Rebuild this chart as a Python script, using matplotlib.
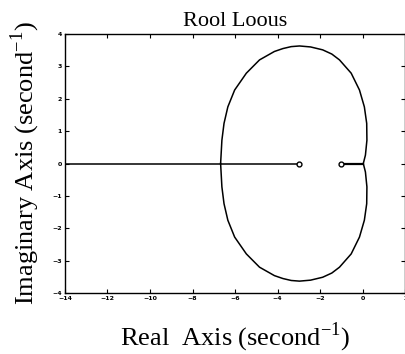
"""
Root locus redrawn from the picture
"""
import numpy as np
import matplotlib.pyplot as plt

# zeros on the real axis
zeros_re = [-3.0, -1.0]

# upper branch of the locus (real, imag)
upper_re = [0.03, 0.13, 0.20, 0.19, 0.08, -0.15, -0.54, -1.09, -1.45, -1.88, -2.45, -2.97,
            -3.36, -3.75, -4.15, -4.85, -5.47, -6.02, -6.34, -6.52, -6.62, -6.68]
upper_im = [0.0, 0.26, 0.72, 1.24, 1.75, 2.27, 2.79, 3.20, 3.38, 3.51, 3.60, 3.63,
            3.61, 3.55, 3.46, 3.20, 2.79, 2.27, 1.75, 1.24, 0.72, 0.0]

# segments along the real axis
left_seg = [-14.0, -3.0]
right_seg = [-1.0, 0.03]

x_ticks = [-14, -12, -10, -8, -6, -4, -2, 0, 2]
y_ticks = [-4, -3, -2, -1, 0, 1, 2, 3, 4]

fig = plt.figure(figsize=(4.06, 3.54), dpi=100)
ax = fig.add_axes([0.160, 0.172, 0.838, 0.732])

up_re = np.array(upper_re)
up_im = np.array(upper_im)
ax.plot(up_re, up_im, color='black', linewidth=1.1)
ax.plot(up_re, -up_im, color='black', linewidth=1.1)
ax.plot(left_seg, [0, 0], color='black', linewidth=1.1)
ax.plot(right_seg, [0, 0], color='black', linewidth=1.6)
ax.plot(zeros_re, [0, 0], 'o', markersize=3.5, markerfacecolor='white',
        markeredgecolor='black', markeredgewidth=1.0, linestyle='none')

ax.set_xlim(-14, 2)
ax.set_ylim(-4, 4)
ax.set_xticks(x_ticks)
ax.set_yticks(y_ticks)
ax.tick_params(direction='in', length=3, width=0.8, top=True, right=True,
               labelsize=4.5, pad=2)
for lab in ax.get_xticklabels() + ax.get_yticklabels():
    lab.set_fontweight('bold')
for sp in ax.spines.values():
    sp.set_linewidth(1.0)

ax.set_title("Rool Loous", fontsize=16, family='Liberation Serif', pad=6)
ax.set_xlabel("Real  Axis (second$^{\\mathregular{-1}}$)", fontsize=19,
              family='Liberation Serif', labelpad=14)
ax.set_ylabel("Imaginary Axis (second$^{\\mathregular{-1}}$)", fontsize=19,
              family='Liberation Serif')
ax.yaxis.set_label_coords(-0.068, 0.5)

plt.savefig('out.png', dpi=100)
plt.close()
